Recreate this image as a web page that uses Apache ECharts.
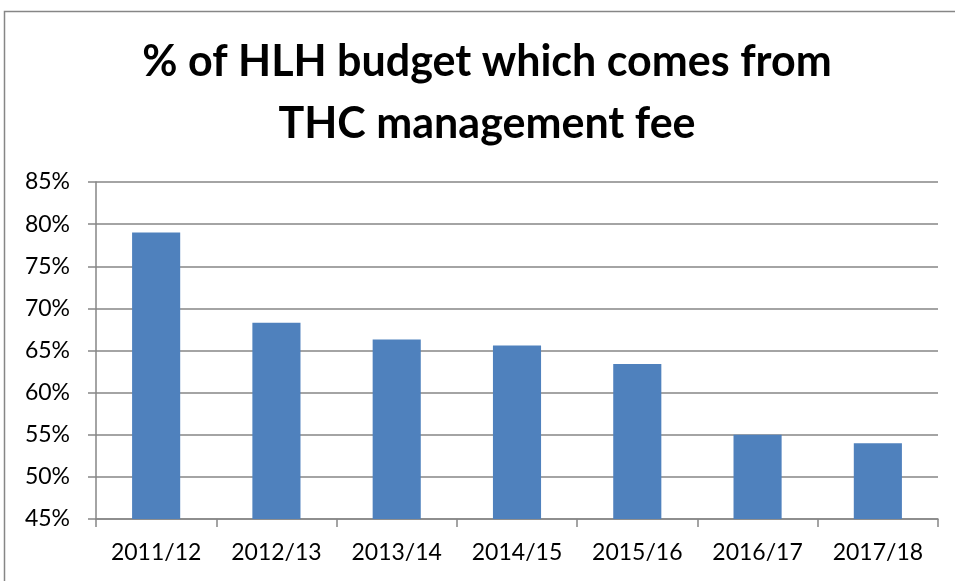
<!DOCTYPE html>
<html>
<head>
    <meta charset="UTF-8">
    <title>HLH budget</title>
    <script src="https://cdn.jsdelivr.net/npm/echarts@6/dist/echarts.min.js"></script>
    <style>
        html, body { margin: 0; padding: 0; background: #fff; }
        #chart { width: 955px; height: 581px; }
    </style>
</head>
<body>
<div id="chart"></div>
<script>
    // data
    var years = ['2011/12', '2012/13', '2013/14', '2014/15', '2015/16', '2016/17', '2017/18'];
    var feeShare = [79.0, 68.3, 66.3, 65.6, 63.4, 55.0, 54.0];
    var titleLines = ['% of HLH budget which comes from', 'THC management fee'];

    var chart = echarts.init(document.getElementById('chart'));
    var fontName = 'Lato, "Open Sans", sans-serif';
    var gray = '#868686';

    var option = {
        animation: false,
        graphic: [
            // outer frame of the chart (runs off the right/bottom edge)
            { type: 'rect', shape: { x: 4.5, y: 11.5, width: 1000, height: 700 },
              style: { fill: 'none', stroke: gray, lineWidth: 1.5 } },
            { type: 'text', x: 487, y: 62,
              style: { text: titleLines[0], fill: '#000', font: 'bold 43px ' + fontName,
                       textAlign: 'center', textVerticalAlign: 'middle' } },
            { type: 'text', x: 487, y: 124,
              style: { text: titleLines[1], fill: '#000', font: 'bold 43px ' + fontName,
                       textAlign: 'center', textVerticalAlign: 'middle' } }
        ],
        grid: { left: 96, right: 17, top: 182, bottom: 62, containLabel: false },
        xAxis: {
            type: 'category',
            data: years,
            axisLine: { lineStyle: { color: gray, width: 1.5 } },
            axisTick: { show: true, length: 8, lineStyle: { color: gray, width: 1.5 } },
            axisLabel: { color: '#000', fontSize: 23, fontFamily: fontName, margin: 22 }
        },
        yAxis: {
            type: 'value',
            min: 45,
            max: 85,
            interval: 5,
            axisLine: { show: true, lineStyle: { color: gray, width: 1.5 } },
            axisTick: { show: true, length: 8, lineStyle: { color: gray, width: 1.5 } },
            axisLabel: { color: '#000', fontSize: 23, fontFamily: fontName, margin: 26,
                         formatter: '{value}%' },
            splitLine: { lineStyle: { color: gray, width: 1.5 } }
        },
        series: [{
            type: 'bar',
            data: feeShare,
            barWidth: '40%',
            itemStyle: { color: '#4F81BD' }
        }]
    };
    chart.setOption(option);
</script>
</body>
</html>
